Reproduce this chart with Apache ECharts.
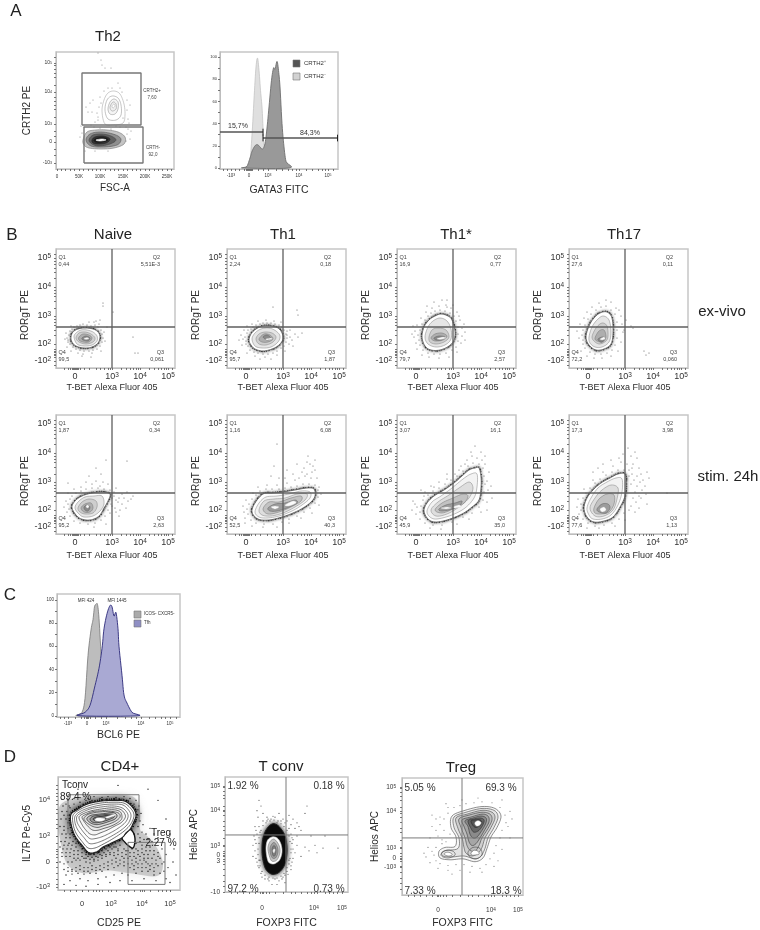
<!DOCTYPE html>
<html><head><meta charset="utf-8">
<style>html,body{margin:0;padding:0;background:#fff}#c{width:760px;height:930px;filter:blur(0.4px)}</style>
<script src="https://cdn.jsdelivr.net/npm/echarts@6/dist/echarts.min.js"></script>
</head><body><div id="c"></div>
<script>
// ---- Values. Cytometry scatter / contour values are display channels on each plot's biexponential axis.
const sup = e => '10{s|' + e + '}';
const bXTickVals = [19,56,84,112], bXTickLabels = ['0',sup(3),sup(4),sup(5)];
const bYTickVals = [110,81,52,24,15,7], bYTickLabels = [sup(5),sup(4),sup(3),sup(2),'0','-10{s|2}'];
const bXMinor = [8,12,14,16,17,18,20,21,22,24,28,33,40,44,48,52,54,65,70,74,77,80,82,93,98,102,105,108,110,116];
const bYMinor = [3,11,13,14,16,17,19,33,38,43,46,49,60,67,72,75,78,90,96,100,104,107,114];

const a1XVals = [1,23,44,67,89,111], a1XLabels = ['0','50K','100K','150K','200K','250K'];
const a1YVals = [106,77,45,27,6], a1YLabels = [sup(5),sup(4),sup(3),'0','-10{s|3}'];
const a1Minor = [5,9,14,18,27,32,36,40,49,54,58,62,71,76,80,84,93,98,102,106,115];
const a1YMinor = [14,20,33,38,52,60,64,68,72,84,92,96,100,104,112];
const a2XVals = [11,29,48,79,108], a2XLabels = ['-10{s|3}','0',sup(3),sup(4),sup(5)];
const pctVals = [0,20,40,60,80,100], pctLabels = ['0','20','40','60','80','100'];
const pctMinor = [10,30,50,70,90];
const cXVals = [11,30,49,84,113], cXLabels = a2XLabels;
const d1XVals = [24,53,84,112], d1XLabels = bXTickLabels;
const d1YVals = [96,58,30,3], d1YLabels = [sup(4),sup(3),'0','-10{s|3}'];
const d2XVals = [37,89,117], d2XLabels = ['0',sup(4),sup(5)];
const d2YVals = [113,87,49,39,33,0], d2YLabels = [sup(5),sup(4),sup(3),'0','3','-10'];
const d3XVals = [36,89,116], d3XLabels = d2XLabels;
const d3YVals = [113,88,49,39,29], d3YLabels = [sup(5),sup(4),sup(3),'0','-10{s|3}'];
const dMinor = [6,12,18,24,30,35,38,41,44,50,58,66,70,76,82,86,92,100,104,108,112];

const bQuadrants = [
 ['0,44','5,51E-3','99,5','0,061'],['2,24','0,18','95,7','1,87'],['16,9','0,77','79,7','2,57'],['27,6','0,11','72,2','0,060'],
 ['1,87','0,34','95,2','2,63'],['1,16','6,08','52,5','40,3'],['3,07','16,1','45,9','35,0'],['17,3','3,98','77,6','1,13']];

const histLight = [27,0,30,0.5,31,16,32.5,37,34.5,70,36,91,37.5,99,39,88,40.5,70,42,55,43,37,44,21,46.5,10,50,0];
const histDark = [24,0,27,1.5,30,9,32,15,35,20,37.5,21,40,19,42.5,17,45,22,47,36,49,55,51.5,79,53.5,90,55,89,57,96,58.5,88,60,73,62,40,64,19,66,6,69,0];
const histGray = [21,0,25,3,28,15,31,52,34,74,36,83,37.5,94,39,96,40.5,96,42,84,44,55,46,35,49,21,53,8,58,3,65,0];
const histBlue = [23,0,28,3,33,9,38,26,42,41,45,58,47,75,50,88,53,95,55,94,57,86,59,89,61,75,62,60,65,35,67,18,70,11,75,3,80,0];

const a1Dots = [42,116,45,109,46,104,49,101,55,101,37,69,36,57,32,57,41,56,39,47,42,49,62,86,56,81,66,77,71,69,71,59,67,51,44,72,45,66,43,62,42,52,72,50,73,46,70,42,64,81,52,81,48,78,74,64,30,62,34,66,25,43,28,42,35,44,38,42,60,43,64,42,72,40,75,38,44,41,55,40,70,28,71,35,24,32,26,36,29,18,39,18,52,18,74,30];
const a1UpperRings = [
 [46,58,48,69,52,76,58,78,64,75,68,65,69,54,67,46,58,44,49,45],
 [49,59,51,69,56,73,62,71,65,64,65,54,60,49,52,50],
 [52,60,54,67,58,70,62,67,62,60,59,55,54,55],
 [54,62,57,67,60,65,60,60,56,58],
 [56,63,58,65,59,63,57,61]];
const a1LowerRings = [
 [27,29,31,37,40,39,51,39,62,37,69,32,68,25,58,21,45,20,33,21,28,24],
 [30,29,34,35,43,37,53,36,62,33,65,29,61,24,48,22,35,23],
 [33,29,37,34,46,35,55,33,60,29,54,25,43,23,36,25],
 [36,29,39,32,47,33,54,30,50,26,42,25,37,26],
 [38,29,42,31,49,31,52,29,46,27,40,27],
 [40,29,46,30,50,29,44,28]];

const naiveExRings = [
 [15,31,17,36,22,39,29,40,37,39,42,36,44,31,42,25,36,21,28,20,20,22,16,26],
 [18,31,20,35,25,38,31,38,37,36,41,32,41,27,36,23,28,22,21,24],
 [20,30,23,35,29,36,35,34,39,30,37,26,30,24,23,26],
 [23,31,27,34,33,33,36,30,33,26,27,26,23,28],
 [26,30,30,32,34,30,32,27,27,28],
 [28,29.5,31,30.5,33,29.5,30,28.5]];
const naiveExDots = [12,28,13,33,11,30,14,37,16,39,18,41,21,42,24,43,27,44,31,43,35,42,39,43,42,41,45,38,46,34,47,30,46,26,44,22,41,19,37,18,33,17,28,17,24,18,20,19,17,21,14,24,12,26,10,35,9,29,15,42,33,46,38,46,43,44,48,36,49,27,45,17,36,15,27,14,22,15,15,17,11,21,35,11,26,12,40,47,47,65,47,62,57,56,44,48,51,41,77,31,82,15,79,15];
const th1ExRings = [
 [22,28,24,34,29,39,36,42,44,42,51,40,55,35,56,29,52,23,45,19,36,17,28,19,24,23],
 [25,29,28,35,34,39,42,40,49,37,53,32,51,26,44,21,35,20,28,22],
 [29,29,32,34,38,36,45,35,49,31,46,26,39,23,32,24],
 [32,29,37,34,43,33,46,29,41,26,35,26],
 [36,31,40,33,44,30,40,28],
 [39,29,44,30,45,29,40,28]];
const th1ExDots = [19,27,18,31,20,35,21,38,24,39,26,41,29,43,33,44,36,45,40,45,44,45,48,44,52,43,55,41,57,38,59,34,60,30,59,26,57,22,54,20,50,17,46,15,41,14,36,14,31,15,27,16,23,18,21,22,19,24,16,29,14,33,17,38,20,42,25,44,31,47,39,48,47,47,54,46,60,37,63,31,62,24,58,17,50,13,38,11,28,12,20,15,15,23,12,28,46,61,70,58,71,53,75,35,71,31,60,33,65,28,63,38,66,22,68,34,44,9,33,9];
const th1sExRings = [
 [25,31,27,41,32,48,38,52,44,54,51,52,55,48,58,37,57,28,52,22,43,18,34,18,28,22],
 [28,31,31,41,36,47,43,50,50,47,54,39,54,29,48,23,39,21,31,24],
 [32,31,35,38,41,40,49,38,52,31,47,26,39,24,33,26],
 [34,30,38,34,45,35,50,32,46,28,38,27],
 [37,30,42,32,48,31,44,28,39,28],
 [40,29.5,46,31,49,30,43,28.5]];
const th1sExDots = [22,28,21,33,23,38,25,44,28,48,31,52,34,55,38,57,43,58,48,57,53,55,57,52,59,47,61,41,61,34,61,27,59,21,55,18,49,15,43,14,37,14,31,15,26,18,23,23,19,25,17,31,18,37,20,43,24,50,29,56,35,60,42,62,49,63,54,60,60,56,63,48,65,40,65,32,64,25,60,16,52,11,42,10,32,11,25,13,20,19,15,34,16,42,30,62,37,66,45,68,50,68,50,61,56,63,62,52,67,44,68,36,68,28];
const th17ExRings = [
 [17,31,20,42,25,50,31,55,38,56,43,50,44,35,42,24,35,19,27,18,20,23],
 [20,31,23,41,28,48,34,52,40,48,42,36,40,26,33,21,26,21,21,25],
 [23,31,27,40,33,45,38,42,39,32,37,27,31,24,26,26],
 [26,30,30,37,35,38,37,31,34,26,28,27],
 [29,29,33,31,36,30,33,26,30,27],
 [31,29,35,31,36,29,33,28]];
const th17ExDots = [14,28,13,33,14,38,16,43,19,49,22,54,27,58,32,61,37,62,42,58,46,54,48,46,48,38,48,30,46,23,43,18,38,15,32,14,26,14,21,16,16,20,14,24,10,30,8,37,11,44,15,50,18,56,23,61,30,65,37,68,42,66,47,60,52,52,53,44,54,36,52,26,49,17,42,12,33,10,25,10,18,12,12,17,50,58,57,48,62,42,64,40,55,38,75,17,80,15,77,13];
const naiveStimRings = [
 [16,26,19,33,26,38,36,41,46,42,54,40,52,33,48,26,44,19,38,15,30,14,22,17],
 [19,26,22,32,29,37,38,38,46,38,48,30,44,23,37,18,28,17,23,20],
 [22,26,26,32,33,35,40,33,41,27,37,21,29,20,24,22],
 [25,26,29,30,35,31,37,26,34,22,28,22],
 [28,27,31,29,34,27,32,23,29,24],
 [30,28,32,29,33,27,31,26]];
const naiveStimDots = [13,25,12,30,14,35,16,38,20,41,25,43,30,45,36,46,42,46,48,45,54,44,58,42,56,36,55,30,52,24,49,18,45,14,39,11,32,10,24,11,18,13,14,18,11,22,8,27,10,33,12,41,18,45,25,47,58,38,60,34,62,32,56,28,59,26,63,36,66,30,68,36,70,26,72,33,75,35,77,38,64,24,60,22,54,21,66,40,71,42,40,66,45,60,50,74,71,73,12,51,40,53,47,52,52,50,60,46,36,50,30,52,33,58,44,48,63,18,50,10,38,7];
const th1StimRings = [
 [25,22,28,31,36,40,45,41,56,42,68,44,80,46,87,45,88,38,84,32,76,26,66,21,55,17,42,14,31,15],
 [28,22,32,31,39,37,50,38,62,40,74,43,83,42,83,36,75,29,65,23,52,18,40,16,32,17],
 [32,24,37,33,47,35,58,36,70,40,80,40,78,34,68,27,56,21,44,18,35,19],
 [36,25,42,32,52,32,64,36,74,38,74,33,64,27,52,22,41,20],
 [41,26,48,30,58,31,68,34,70,31,60,26,50,23,43,23],
 [44,27,48,28,52,27,48,25],
 [58,29,66,33,69,31,62,28]];
const th1StimDots = [21,20,20,25,22,30,25,35,29,39,33,43,39,45,45,45,52,45,58,46,64,47,70,48,76,50,82,50,88,49,91,44,91,37,88,31,83,26,77,22,70,18,62,15,55,12,46,10,37,10,29,11,24,14,18,16,17,22,16,28,19,34,26,41,31,47,40,49,50,49,60,51,68,54,72,56,78,58,84,56,92,47,94,40,92,29,85,21,74,16,62,11,50,7,36,7,25,8,18,11,80,60,85,62,88,64,83,70,80,72,86,68,88,74,81,78,77,66,90,56,75,62,50,90,47,68,44,58,52,56,58,56,66,60,60,64,70,70];
const th1sStimRings = [
 [27,23,30,31,37,38,47,44,57,51,65,58,72,64,78,66,82,66,84,57,84,46,82,34,75,27,65,20,50,14,38,12,31,15],
 [30,23,35,32,44,38,55,46,66,55,74,60,80,60,80,47,77,36,68,26,55,19,40,15,33,17],
 [34,24,41,32,52,39,62,46,72,52,76,46,72,36,62,27,50,20,39,18],
 [38,24,45,31,56,36,66,40,71,38,67,31,56,25,45,21],
 [42,25,49,29,58,31,65,33,62,28,52,24,44,23],
 [44,26,50,27,54,26,49,25],
 [56,27,62,29,64,27,58,26]];
const th1sStimDots = [23,22,24,28,26,34,31,39,36,43,42,46,48,50,54,54,60,58,66,63,71,68,76,71,82,70,86,66,87,58,88,50,87,42,86,34,82,27,75,21,66,17,55,12,45,9,36,9,28,11,23,15,19,20,20,27,27,38,37,47,50,55,62,64,70,74,75,78,80,76,85,74,88,70,92,62,90,53,91,44,90,32,84,22,72,15,60,10,44,5,33,6,78,88,74,82,84,82,88,78,68,70,64,68,58,60,50,60,42,52,34,48,28,42,24,44,18,30,15,24,16,33,94,48,95,36,90,24];
const th17StimRings = [
 [15,26,18,36,24,44,32,51,41,56,49,60,56,60,57,50,56,38,51,27,44,17,35,13,25,12,18,17],
 [18,26,22,36,29,46,38,52,47,56,53,55,53,42,49,29,42,19,33,15,24,15,20,19],
 [21,26,26,36,33,44,42,49,49,46,48,35,44,24,35,18,26,18],
 [25,26,30,35,38,40,45,39,45,30,40,22,32,20,26,21],
 [28,25,33,30,39,30,41,26,37,21,30,22],
 [31,25,35,27,37,24,33,22]];
const th17StimDots = [12,24,12,30,14,36,17,41,21,46,26,51,31,55,37,59,43,62,49,64,55,64,60,64,63,60,65,54,68,48,66,42,70,38,64,36,67,32,62,28,60,24,55,21,50,15,43,11,35,9,26,8,19,11,14,15,10,20,8,27,9,35,15,45,24,54,34,62,44,68,52,72,58,70,64,70,70,66,72,60,74,54,76,48,73,44,77,40,72,36,78,30,70,26,66,22,56,14,46,8,30,6,18,6,59,86,54,80,62,78,68,76,66,82,50,76,42,74,34,70,29,66,78,62,80,56,98,41,24,62,60,58,63,66,68,58,71,52,62,50];

const d1Cloud = [4,93,25,100,52,101,75,100,82,85,82,65,89,58,99,45,105,28,99,15,72,18,49,21,25,18,9,28,2,55,0,78];
const d1Lobe = [64,56,68,61,72,65,76,60,77,52,75,45,71,47,67,51];
const d1Rings = [
 [19,86,29,92,42,95,55,96,67,95,75,88,78,80,75,71,72,65,68,61,64,56,55,51,45,46,39,41,31,40,24,48,17,58,13,71,13,81],
 [15,80,20,85,30,90,42,93,55,94,66,93,73,87,76,80,73,71,66,63,55,55,45,49,37,45,30,45,24,52,18,61,15,71],
 [17,79,22,84,31,88,43,91,55,92,65,91,71,85,73,79,70,71,63,64,54,58,45,53,37,50,31,50,26,56,20,64,17,72],
 [19,79,24,83,33,87,44,89,55,90,64,88,69,83,70,78,67,72,60,66,52,61,44,57,37,55,32,55,27,60,22,67,19,73],
 [21,78,26,82,34,85,45,87,55,88,63,86,67,81,67,77,63,72,56,68,49,64,42,61,37,59,32,60,28,64,24,70],
 [24,78,28,81,35,84,45,85,55,86,62,84,64,79,63,75,58,71,52,68,46,66,40,64,35,64,31,67,27,72],
 [26,77,30,81,37,83,46,84,55,84,61,82,62,78,58,74,52,71,46,69,40,67,35,68,30,71,27,74],
 [29,77,33,80,39,81,47,82,55,83,59,80,57,76,50,73,44,71,39,70,34,71,30,74],
 [32,76,35,79,41,80,48,81,55,81,56,78,50,75,44,73,38,72,34,73],
 [35,76,38,78,44,79,50,80,55,79,50,77,44,75,38,74],
 [48,78,56,81,57,80,50,77],
 [37,75,39,77,43,77,47,76,44,74,39,74]];
const d1Dots = [10,96,16,98,22,99,30,98,36,100,44,99,50,100,58,99,66,100,72,98,78,96,81,90,83,82,80,86,5,90,8,92,4,84,9,84,3,76,8,76,11,90,2,68,6,68,10,66,4,60,8,60,12,60,3,52,7,52,11,50,15,52,5,44,9,44,13,44,18,46,4,36,8,36,12,36,16,38,20,38,24,40,2,30,6,28,10,30,14,30,18,32,22,32,26,34,30,36,34,35,38,36,42,38,46,40,50,42,54,44,58,46,62,48,28,30,32,29,36,31,40,32,44,34,48,36,52,38,56,40,60,42,64,40,68,42,72,40,76,40,80,42,84,44,88,46,92,46,96,42,100,40,6,22,10,24,14,22,18,24,22,26,26,24,30,24,34,26,38,24,42,26,46,28,50,30,54,32,58,34,62,32,66,34,70,34,74,32,78,34,82,36,86,38,90,38,94,34,98,32,102,34,8,16,14,17,20,18,26,17,32,18,38,18,44,20,50,22,56,24,60,26,66,26,72,24,76,26,80,28,84,28,88,30,92,26,96,24,100,26,104,28,12,10,22,12,30,10,40,12,48,14,56,16,64,18,70,16,78,18,84,20,90,20,96,16,102,18,106,20,6,6,18,5,28,4,40,6,52,8,62,10,74,10,86,12,98,10,108,12,82,74,85,70,84,62,88,60,86,54,90,54,94,52,78,50,82,52,96,60,100,56,92,66,104,44,108,38,106,30,110,24,115,30,118,16,112,8,60,112,20,108,90,108,100,96,108,76,112,60,116,44,
 8,40,12,40,16,42,20,42,24,44,10,48,14,48,18,50,8,56,12,56,6,64,10,72,6,80,10,80,12,88,16,92,22,94,28,96,34,96,42,98,48,97,56,98,62,97,70,96,76,92,80,80,78,74,80,68,76,60,80,60,82,56,84,48,78,44,74,44,70,42,66,44,60,44,56,46,52,46,48,44,44,42,40,40,36,38,32,38,28,38,4,40,2,46,6,48,16,34,20,34,24,36,28,34,32,33,36,33,40,35,44,37,48,38,52,40,56,37,60,38,64,36,68,38,72,36,76,36,80,38,84,40,88,42,92,42,96,38,100,36,90,34,86,34,82,32,78,30,74,28,70,28,66,30,62,28,58,30,54,28,50,26,46,24,42,22,38,21,34,22,30,20,26,20,22,22,18,20,14,20,10,20,92,22,96,20,88,24,84,24,80,24,76,22,90,28,94,28,98,28,86,32];

const d2Cloud = [37,45,38,58,42,68,48,73,54,70,60,60,62,45,60,30,54,21,47,19,41,24,38,34];
const d2Rings = [
 [41,45,42,54,45,58,49,59,53,57,56,51,57,43,55,35,51,31,47,30,43,33],
 [43,45,44,52,47,56,50,56,54,50,55,43,53,36,50,33,46,34],
 [45,45,46,50,49,53,52,49,53,43,51,37,48,36,46,39],
 [47,45,48,49,50,49,51,44,50,39,48,39],
 [48,44,49,46,50,45,49,42]];
const d2Dots = [34,98,32,87,36,92,33,80,38,84,42,80,46,78,50,80,54,84,58,78,62,76,66,72,68,78,64,82,72,74,70,68,66,62,68,56,72,60,76,66,82,92,80,84,74,70,34,70,32,62,30,56,28,50,30,44,28,38,32,32,34,26,36,20,40,14,44,12,50,14,54,12,58,16,62,22,66,28,68,36,70,42,72,50,80,48,84,44,90,50,98,47,113,47,76,38,64,34,66,46,30,70,42,76,52,74,38,76,56,76,34,52,33,40,35,34,47,8,52,8,100,60,86,60,92,42,60,10,
 36,66,38,71,41,74,45,76,49,77,53,76,56,73,59,70,62,66,64,60,65,54,66,42,65,36,64,30,62,26,59,20,56,17,52,15,48,15,44,16,40,18,37,22,35,28,34,34,33,46,34,58,35,64,31,66,29,60,31,52,31,36,33,28,37,16,43,14,57,14,60,18,63,19,66,24,67,32,68,46,67,52,67,58,64,68,60,74,48,81,43,78];

const d3Rings = [
 [50,83,63,89,80,93,93,91,99,83,95,71,89,61,85,49,81,39,73,35,61,38,48,37,38,39,37,46,43,50,53,51,54,61,49,71],
 [52,82,64,87,80,91,92,89,96,82,92,71,86,60,83,49,79,41,73,38,62,41,50,40,41,41,40,45,45,47,56,49,57,60,52,71],
 [54,81,65,85,80,89,90,87,93,81,89,71,83,60,80,50,76,44,70,41,64,44,62,50,60,60,56,70],
 [57,80,67,84,80,87,88,85,90,79,86,70,80,60,77,52,73,46,68,47,65,52,63,60,59,71],
 [60,79,69,82,80,85,86,83,87,77,83,69,78,60,74,54,70,52,67,56,65,64,62,72],
 [63,78,71,81,79,83,84,81,84,76,80,68,75,61,71,60,68,64,66,72],
 [66,78,72,80,78,81,82,79,81,74,77,68,72,66,69,70],
 [69,78,73,79,78,79,80,76,78,73,74,71,71,73],
 [73,76,76,78,79,76,77,73,74,73]];
const d3LobeRings = [
 [39,43,44,47,51,46,53,42,47,39,41,40],
 [66,45,71,50,78,49,80,42,74,38,68,40],
 [42,43,45,45,49,44,50,42,46,41],
 [69,44,72,47,76,46,77,43,73,42,70,42]];
const d3Dots = [46,86,42,80,38,74,34,68,36,62,40,58,44,56,48,64,42,68,38,82,34,80,30,72,46,92,52,92,58,94,64,96,72,97,80,98,90,97,98,92,103,84,104,76,100,68,98,60,94,52,92,44,88,38,84,32,78,28,70,30,62,32,54,32,46,31,38,33,34,36,32,42,30,46,34,50,40,54,44,96,28,60,26,50,24,40,28,34,36,28,46,26,58,26,68,24,80,24,92,30,96,36,100,48,108,60,106,72,110,80,108,88,100,100,76,102,60,100,30,84,22,44,50,22];

// ---- Building the option from the arrays above
const FONT = 'Liberation Sans';
const pairs = f => { const o = []; for (let i = 0; i < f.length; i += 2) o.push([f[i], f[i + 1]]); return o; };
// closed Catmull-Rom through pixel points, so contours pass through every read value without pinching
function spline(p, steps) {
  const n = p.length, out = [];
  for (let i = 0; i < n; i++) {
    const a = p[(i + n - 1) % n], b = p[i], c = p[(i + 1) % n], d = p[(i + 2) % n];
    for (let s = 0; s < steps; s++) {
      const t = s / steps, t2 = t * t, t3 = t2 * t;
      out.push([0, 1].map(k => 0.5 * (2 * b[k] + (c[k] - a[k]) * t + (2 * a[k] - 5 * b[k] + 4 * c[k] - d[k]) * t2 + (3 * b[k] - a[k] - 3 * c[k] + d[k]) * t3)));
    }
  }
  return out;
}
const grids = [], xAxes = [], yAxes = [], series = [], graphic = [];
function axis(range, vals, labels, minor, o) {
  return {
    type: 'value', min: range[0], max: range[1], scale: false, splitLine: { show: false },
    name: o.name, nameLocation: 'middle', nameGap: o.gap,
    nameTextStyle: { fontFamily: FONT, fontSize: o.nameSize, color: '#2b2b2b', padding: o.pad || 0 },
    axisLine: { show: true, onZero: false, lineStyle: { color: '#bdbdbd', width: 1 } },
    axisTick: { show: true, length: 2, customValues: vals.concat(minor), lineStyle: { color: '#555', width: 0.8 } },
    axisLabel: {
      show: true, customValues: vals, margin: o.margin, hideOverlap: false, showMinLabel: true, showMaxLabel: true,
      fontFamily: FONT, fontSize: o.size, color: o.color || '#333',
      formatter: v => labels[vals.indexOf(v)] ,
      rich: { s: { fontFamily: FONT, fontSize: Math.max(o.size * 0.72, 3.5), verticalAlign: 'top', color: o.color || '#333' } }
    }
  };
}
function panel(p) {
  const i = grids.length;
  grids.push({ left: p.x, top: p.y, width: p.w, height: p.h, show: true, borderColor: '#c6c6c6', borderWidth: 1.5, backgroundColor: '#fff' });
  xAxes.push(Object.assign(axis([0, p.xmax || p.w], p.xv, p.xl, p.xm, p.xo), { gridIndex: i }));
  yAxes.push(Object.assign(axis(p.yr || [0, p.h], p.yv, p.yl, p.ym, p.yo), { gridIndex: i }));
  return i;
}
const base = i => ({ xAxisIndex: i, yAxisIndex: i, silent: true, animation: false });
function dots(i, flat, size, color, op) {
  series.push(Object.assign(base(i), { type: 'scatter', data: pairs(flat), symbolSize: size || 1.3, itemStyle: { color: color || '#333', opacity: op || 0.85 } }));
}
function poly(i, flat, style) {
  const pts = pairs(flat);
  series.push(Object.assign(base(i), {
    type: 'custom', coordinateSystem: 'cartesian2d', clip: true, data: pts, encode: { x: 0, y: 1 },
    renderItem: (q, api) => q.dataIndex ? null : ({ type: 'polygon', shape: { points: spline(pts.map(d => api.coord(d)), 6) }, style })
  }));
}
function seg(i, flat, color, width) {
  series.push(Object.assign(base(i), { type: 'line', data: pairs(flat), symbol: 'none', clip: true, lineStyle: { color: color || '#5a5a5a', width: width || 1.4 } }));
}
function rings(i, list, fills, strokes, widths) {
  list.forEach((r, k) => poly(i, r, { fill: fills[Math.min(k, fills.length - 1)], stroke: strokes[Math.min(k, strokes.length - 1)], lineWidth: widths ? widths[Math.min(k, widths.length - 1)] : 0.6 }));
}
// a soft dark glow plus a thin broken line along an outer contour stands for the crowd of events packed against it
const crowdA = [0.8, 1.4, 1.5, 0.9, 0.6, 2.2, 1.1, 1.7, 0.7, 1.1];
function halo(i, flat, blur, color, width) {
  poly(i, flat, { fill: '#fff', stroke: color, lineWidth: width, lineDash: crowdA, shadowBlur: blur, shadowColor: color });
}
function text(t, x, y, size, o) {
  o = o || {};
  graphic.push({ type: 'text', silent: true, z: 100, x, y, style: { text: t, fontFamily: FONT, fontSize: size, fill: o.color || '#222', align: o.align || 'center', verticalAlign: 'middle' } });
}

// panel A
{
  const i = panel({ x: 56, y: 52, w: 118, h: 117, xv: a1XVals, xl: a1XLabels, xm: a1Minor, yv: a1YVals, yl: a1YLabels, ym: a1YMinor,
    xo: { name: 'FSC-A', gap: 14, nameSize: 10, size: 4.5, margin: 5 }, yo: { name: 'CRTH2 PE', gap: 24, nameSize: 10, size: 5, margin: 4 } });
  dots(i, a1Dots, 1.1, '#666', 0.8);
  rings(i, a1UpperRings, ['#fff', '#fff', '#f4f4f4', '#f0f0f0', '#fff'], ['#aaa', '#9a9a9a', '#999', '#999', '#aaa']);
  rings(i, a1LowerRings, ['#c4c4c4', '#8f8f8f', '#606060', '#333', '#222', '#fff'], ['#777', '#555', '#444', '#222', '#111', '#eee']);
  seg(i, [26, 44, 26, 96, 85, 96, 85, 44, 26, 44], '#777', 1.4);
  seg(i, [28, 6, 28, 42, 87, 42, 87, 6, 28, 6], '#777', 1.4);
  const j = panel({ x: 220, y: 52, w: 118, h: 117, yr: [-0.9, 104.5], xv: a2XVals, xl: a2XLabels, xm: [3, 7, 15, 19, 24, 26, 27, 28, 30, 31, 32, 38, 43, 56, 62, 68, 72, 76, 86, 92, 98, 102, 105, 113], yv: pctVals, yl: pctLabels, ym: pctMinor,
    xo: { name: 'GATA3 FITC', gap: 16, nameSize: 10.5, size: 4.5, margin: 4 }, yo: { size: 4, margin: 3, nameSize: 8 } });
  poly(j, histLight, { fill: '#dfdfdf', stroke: '#c4c4c4', lineWidth: 0.8 });
  poly(j, histDark, { fill: '#999', stroke: '#6e6e6e', lineWidth: 0.9 });
  seg(j, [0, 32.4, 43, 32.4], '#555', 1.4); seg(j, [43, 29.4, 43, 35.4], '#222', 1);
  seg(j, [43, 27, 118, 27], '#555', 1.4); seg(j, [43, 24, 43, 30], '#222', 1); seg(j, [117.5, 24, 117.5, 30], '#222', 1);
}

// panel B
const bCols = [56, 227, 397, 569];
const bPanels = [
  [naiveExDots, naiveExRings], [th1ExDots, th1ExRings], [th1sExDots, th1sExRings], [th17ExDots, th17ExRings],
  [naiveStimDots, naiveStimRings], [th1StimDots, th1StimRings], [th1sStimDots, th1sStimRings], [th17StimDots, th17StimRings]];
const bFills = ['#ffffff', '#e6e6e6', '#cecece', '#aeaeae', '#8a8a8a', '#fbfbfb', '#fbfbfb'];
const bFillsLong = ['#ffffff', '#f3f3f3', '#dedede', '#c2c2c2', '#9c9c9c', '#fbfbfb', '#fbfbfb'];
bPanels.forEach((d, n) => {
  const row = n < 4 ? 0 : 1, x = bCols[n % 4], y = row ? 415 : 249;
  const i = panel({ x, y, w: 119, h: 119, xv: bXTickVals, xl: bXTickLabels, xm: bXMinor, yv: bYTickVals, yl: bYTickLabels, ym: bYMinor,
    xo: { name: 'T-BET Alexa Fluor 405', gap: row ? 17 : 15, nameSize: 9, size: 9, margin: 4, pad: [0, 7, 0, 0] },
    yo: { name: 'RORgT PE', gap: (n % 4 === 0 || n % 4 === 3) ? 17 : 18, nameSize: 10, size: 9, margin: 5, pad: [0, 13, 0, 0] } });
  dots(i, d[0], 1.2, '#333', 0.8);
  halo(i, d[1][0], 3, '#333', 2.4);
  rings(i, d[1], n >= 5 ? bFillsLong : bFills, ['#555', '#808080', '#808080', '#737373', '#5c5c5c', '#bbb', '#ccc'], [0.8, 0.5, 0.5, 0.5, 0.5, 0.4, 0.4]);
  seg(i, [56, 0, 56, 119], '#5e5e5e', 1.3); seg(i, [0, 41, 119, 41], '#5e5e5e', 1.3);
  const q = bQuadrants[n];
  text('Q1', x + 2.5, y + 8, 5.5, { align: 'left', color: '#444' }); text(q[0], x + 2.5, y + 15, 5.5, { align: 'left', color: '#444' });
  text('Q2', x + 104, y + 8, 5.5, { align: 'right', color: '#444' }); text(q[1], x + 104, y + 15, 5.5, { align: 'right', color: '#444' });
  text('Q4', x + 2.5, y + 103, 5.5, { align: 'left', color: '#444' }); text(q[2], x + 2.5, y + 110, 5.5, { align: 'left', color: '#444' });
  text('Q3', x + 108, y + 103, 5.5, { align: 'right', color: '#444' }); text(q[3], x + 108, y + 110, 5.5, { align: 'right', color: '#444' });
});

// panel C
{
  const i = panel({ x: 57, y: 594, w: 123, h: 123, yr: [-1, 105], xv: cXVals, xl: cXLabels, xm: [3, 7, 18, 24, 27, 29, 31, 33, 38, 44, 60, 68, 74, 79, 92, 98, 104, 108, 119], yv: pctVals, yl: pctLabels, ym: pctMinor,
    xo: { name: 'BCL6 PE', gap: 13, nameSize: 10.5, size: 4.5, margin: 4 }, yo: { size: 4.5, margin: 3, nameSize: 8 } });
  poly(i, histGray, { fill: '#bdbdbd', stroke: '#777', lineWidth: 0.8 });
  poly(i, histBlue, { fill: '#a9a9d3', stroke: '#2c2a7a', lineWidth: 0.9, blend: 'multiply' });
}

// panel D
{
  const i = panel({ x: 58, y: 777, w: 122, h: 121, xv: d1XVals, xl: d1XLabels, xm: dMinor, yv: d1YVals, yl: d1YLabels, ym: dMinor.filter(v => v < 118),
    xo: { name: 'CD25 PE', gap: 28, nameSize: 10.5, size: 7.5, margin: 10 }, yo: { name: 'IL7R Pe-Cy5', gap: 19, nameSize: 10, size: 7.5, margin: 8 } });
  poly(i, d1Cloud, { fill: 'rgba(110,110,110,0.3)', stroke: 'none', shadowBlur: 10, shadowColor: 'rgba(110,110,110,0.5)' });
  dots(i, d1Dots, 1.4, '#0c0c0c', 0.95);
  halo(i, d1Rings[0], 7, '#000', 4);
  poly(i, d1Lobe, { fill: '#fff', stroke: '#111', lineWidth: 1.4 });
  rings(i, d1Rings, ['#fff', '#fff', '#fff', '#fcfcfc', '#f4f4f4', '#e8e8e8', '#d8d8d8', '#bbb', '#9a9a9a', '#777', '#fff', '#fff'],
    ['#222', '#333', '#444', '#444', '#333', '#333', '#333', '#222', '#222', '#111', '#ddd', '#eee'], [1.2, 0.7, 0.7, 0.7, 0.7, 0.7, 0.7, 0.7, 0.7, 0.7, 0.5, 0.5]);
  seg(i, [10, 60, 10, 102, 81, 102, 81, 73], '#777', 1);
  seg(i, [70, 51, 107, 51, 107, 6, 70, 6, 70, 51], '#777', 1);
  const j = panel({ x: 225, y: 777, w: 123, h: 123, xv: d2XVals, xl: d2XLabels, xm: dMinor, yv: d2YVals, yl: d2YLabels, ym: dMinor,
    xo: { name: 'FOXP3 FITC', gap: 26, nameSize: 10.5, size: 6.5, margin: 13 }, yo: { name: 'Helios APC', gap: 26, nameSize: 10, size: 6.5, margin: 5 } });
  dots(j, d2Dots, 1.2, '#333', 0.85);
  poly(j, d2Cloud, { fill: '#0c0c0c', stroke: '#222', lineWidth: 1, shadowBlur: 5, shadowColor: '#111' });
  rings(j, d2Rings, ['#fff', '#c4c4c4', '#9d9d9d', '#7e7e7e', '#fff'], ['#ccc', '#777', '#666', '#555', '#ddd']);
  seg(j, [61, 0, 61, 123], '#7a7a7a', 1); seg(j, [0, 61, 123, 61], '#7a7a7a', 1);
  const k = panel({ x: 402, y: 778, w: 121, h: 123, xv: d3XVals, xl: d3XLabels, xm: dMinor, yv: d3YVals, yl: d3YLabels, ym: dMinor,
    xo: { name: 'FOXP3 FITC', gap: 23, nameSize: 10.5, size: 6.5, margin: 12 }, yo: { name: 'Helios APC', gap: 18, nameSize: 10, size: 6.5, margin: 6 } });
  dots(k, d3Dots, 1.2, '#555', 0.75);
  rings(k, d3Rings, ['#f6f6f6', '#e4e4e4', '#cfcfcf', '#bcbcbc', '#a6a6a6', '#8a8a8a', '#666', '#555', '#fff'], ['#444', '#444', '#444', '#3a3a3a', '#333', '#333', '#2a2a2a', '#222', '#eee']);
  rings(k, d3LobeRings, ['none', 'none', '#fff', '#fff'], ['#444', '#444', '#555', '#555']);
  seg(k, [60, 0, 60, 123], '#7a7a7a', 1); seg(k, [0, 60, 121, 60], '#7a7a7a', 1);
}

// text
[['A', 16, 11], ['B', 12, 235], ['C', 10, 595], ['D', 10, 757]].forEach(t => text(t[0], t[1], t[2], 17));
[['Th2', 108, 37], ['Naive', 113, 235], ['Th1', 283, 235], ['Th1*', 456, 235], ['Th17', 624, 235], ['CD4+', 120, 767], ['T conv', 281, 767], ['Treg', 461, 768]].forEach(t => text(t[0], t[1], t[2], 15));
text('ex-vivo', 722, 312, 15); text('stim. 24h', 728, 477, 15);
text('CRTH2+', 152, 91, 4.5, { color: '#444' }); text('7,60', 152, 98, 4.5, { color: '#444' });
text('CRTH-', 153, 148, 4.5, { color: '#444' }); text('92,0', 153, 155, 4.5, { color: '#444' });
text('15,7%', 238, 126, 7, { color: '#333' }); text('84,3%', 310, 133, 7, { color: '#333' });
text('CRTH2⁺', 304, 63.5, 6, { align: 'left', color: '#333' }); text('CRTH2⁻', 304, 76, 6, { align: 'left', color: '#333' });
text('MFI 424', 86, 601, 4.5, { color: '#333' }); text('MFI 1445', 117, 601, 4.5, { color: '#333' });
text('ICOS- CXCR5-', 144, 614, 4.5, { align: 'left', color: '#333' }); text('Tfh', 144, 623, 4.5, { align: 'left', color: '#333' });
text('Tconv', 62, 785, 10, { align: 'left' }); text('89.4 %', 60, 797, 10, { align: 'left' });
text('Treg', 161, 833, 10); text('2.27 %', 161, 843, 10);
[['1.92 %', 243, 786], ['0.18 %', 329, 786], ['97.2 %', 243, 889], ['0.73 %', 329, 889], ['5.05 %', 420, 788], ['69.3 %', 501, 788], ['7.33 %', 420, 891], ['18.3 %', 506, 891]].forEach(t => text(t[0], t[1], t[2], 10, { color: '#333' }));
[[293, 60, '#555'], [293, 73, '#d2d2d2'], [134, 611, '#aaa'], [134, 620, '#8f8fc4']].forEach(r => graphic.push({ type: 'rect', silent: true, z: 100, x: r[0], y: r[1], shape: { width: 7, height: 7 }, style: { fill: r[2], stroke: '#777', lineWidth: 0.6 } }));

const chart = echarts.init(document.getElementById('c'), null, { width: 760, height: 930 });
chart.setOption({ animation: false, backgroundColor: '#fff', textStyle: { fontFamily: FONT }, grid: grids, xAxis: xAxes, yAxis: yAxes, series, graphic: { elements: graphic } });
</script></body></html>
